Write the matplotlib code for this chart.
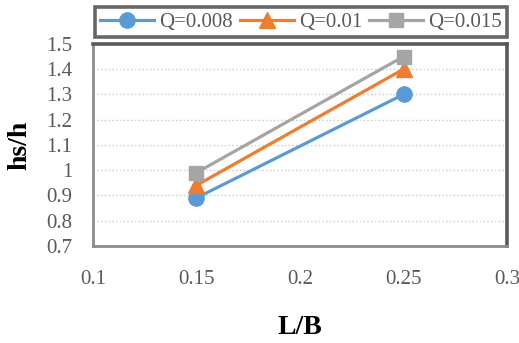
import matplotlib

matplotlib.use("Agg")
import matplotlib.pyplot as plt

# data
lb = [0.15, 0.25]
series_names = ["Q=0.008", "Q=0.01", "Q=0.015"]
hs_h_q008 = [0.89, 1.30]
hs_h_q010 = [0.94, 1.40]
hs_h_q015 = [0.99, 1.45]
x_ticks = [0.1, 0.15, 0.2, 0.25, 0.3]
x_tick_labels = ["0.1", "0.15", "0.2", "0.25", "0.3"]
y_ticks = [0.7, 0.8, 0.9, 1.0, 1.1, 1.2, 1.3, 1.4, 1.5]
y_tick_labels = ["0.7", "0.8", "0.9", "1", "1.1", "1.2", "1.3", "1.4", "1.5"]

plt.rcParams["font.family"] = ["Liberation Serif", "DejaVu Serif"]

fig = plt.figure(figsize=(5.19, 3.43), dpi=100)
ax = fig.add_axes([0.179, 0.283, 0.798, 0.589])

styles = [
    ("#5B9BD5", "o", 11),
    ("#ED7D31", "^", 11),
    ("#A5A5A5", "s", 10),
]
for name, vals, (color, marker, ms) in zip(
    series_names, [hs_h_q008, hs_h_q010, hs_h_q015], styles
):
    ax.plot(lb, vals, color=color, marker=marker, markersize=ms,
            linewidth=2.3, label=name, zorder=3)

ax.set_xlim(0.1, 0.3)
ax.set_ylim(0.7, 1.5)
ax.set_xticks(x_ticks)
ax.set_xticklabels(x_tick_labels)
ax.set_yticks(y_ticks)
ax.set_yticklabels(y_tick_labels)
ax.tick_params(axis="both", length=0, labelsize=15, colors="#595959")
ax.tick_params(axis="y", pad=15)
ax.tick_params(axis="x", pad=17)
ax.grid(axis="y", color="#D0D0D0", linestyle=(0, (1.2, 1.5)), linewidth=1.0)
ax.set_axisbelow(True)

for side in ["top", "right"]:
    ax.spines[side].set_color("#595959")
    ax.spines[side].set_linewidth(2.6)
for side in ["left", "bottom"]:
    ax.spines[side].set_color("#8C8C8C")
    ax.spines[side].set_linewidth(2.0)

ax.set_xlabel("L/B", fontsize=20, fontweight="bold", va="center")
ax.set_ylabel("hs/h", fontsize=20, fontweight="bold", va="center")
ax.xaxis.set_label_coords(0.5, -0.406)
ax.yaxis.set_label_coords(-0.176, 0.5)

leg = fig.legend(loc="lower left", bbox_to_anchor=(0.183, 0.892, 0.794, 0.093),
                 mode="expand", ncol=3, fontsize=15, frameon=True,
                 fancybox=False, borderaxespad=0, handlelength=2.6,
                 handletextpad=0.25, columnspacing=0.3, borderpad=0.25)
leg.get_frame().set_edgecolor("#404040")
leg.get_frame().set_linewidth(2.6)
for t in leg.get_texts():
    t.set_color("#595959")

fig.savefig("out.png", dpi=100)
